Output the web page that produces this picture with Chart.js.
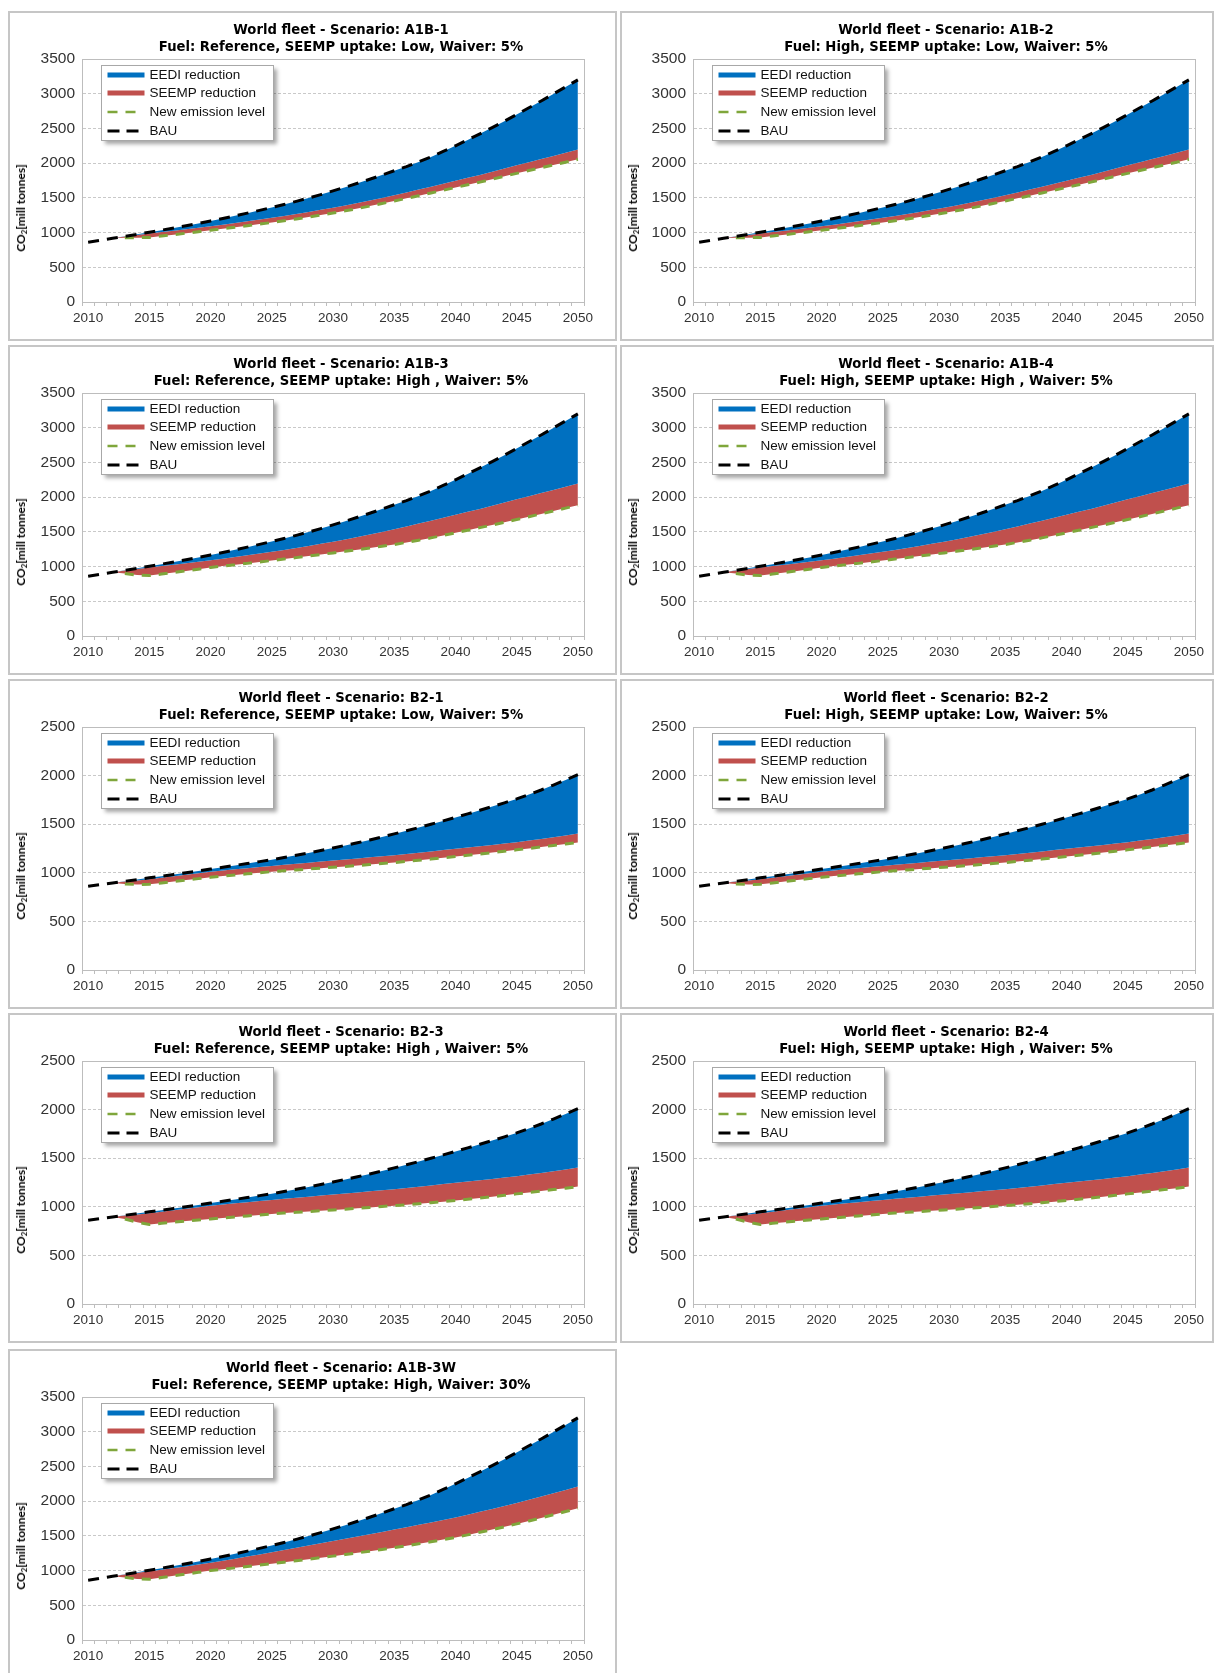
<!DOCTYPE html>
<html>
<head>
<meta charset="utf-8">
<script src="https://cdn.jsdelivr.net/npm/chart.js@4.4.1/dist/chart.umd.min.js"></script>
<style>
  body { margin: 0; background: #fff; width: 1215px; height: 1673px; position: relative; overflow: hidden;
         font-family: "Liberation Sans", Arial, sans-serif; }
  .frame { position: absolute; box-sizing: border-box; border: 2px solid #c6c6c6; }
  canvas { position: absolute; }
  .ttl { position: absolute; transform: translate(-50%, -50%); white-space: nowrap; font-weight: bold;
         font-family: "DejaVu Sans", "Liberation Sans", sans-serif; font-size: 13.2px; color: #000; }
  .ytl { position: absolute; transform: translate(-50%, -50%) rotate(-90deg); white-space: nowrap;
         font-weight: bold; font-family: Lato, "Liberation Sans", sans-serif; font-size: 12px; color: #000; }
  .ytl sub { font-size: 8px; vertical-align: -2px; }
</style>
</head>
<body>
<script>
// ---- data (mill tonnes CO2) ----
const years = ['2010','2011','2012','2013','2014','2015','2016','2017','2018','2019',
               '2020','2021','2022','2023','2024','2025','2026','2027','2028','2029',
               '2030','2031','2032','2033','2034','2035','2036','2037','2038','2039',
               '2040','2041','2042','2043','2044','2045','2046','2047','2048','2049','2050'];

// Business-as-usual emissions
const a1bBau = [862, 890, 918, 946, 975, 1005, 1035, 1066, 1098, 1132,
                1168, 1204, 1241, 1280, 1320, 1362, 1405, 1450, 1497, 1547,
                1600, 1654, 1710, 1768, 1828, 1890, 1950, 2018, 2090, 2168,
                2250, 2335, 2422, 2512, 2605, 2700, 2797, 2896, 2997, 3098, 3200];
const b2Bau = [862, 879, 896, 913, 930, 948, 965, 983, 1001, 1019,
               1038, 1057, 1076, 1095, 1115, 1135, 1157, 1180, 1204, 1229,
               1255, 1282, 1309, 1338, 1368, 1400, 1432, 1465, 1499, 1534,
               1570, 1606, 1643, 1681, 1720, 1760, 1805, 1852, 1903, 1955, 2010];

// Emission level after the EEDI reduction
const a1bAfterEedi = [null, null, 918, 942, 964, 987, 1007, 1027, 1048, 1069,
                      1091, 1114, 1138, 1162, 1187, 1212, 1240, 1268, 1297, 1327,
                      1358, 1391, 1425, 1461, 1499, 1538, 1578, 1619, 1660, 1702,
                      1745, 1788, 1831, 1876, 1922, 1968, 2013, 2058, 2103, 2149, 2195];
const a1bAfterEedi30 = [null, null, 918, 944, 967, 990, 1013, 1036, 1060, 1086,
                        1112, 1141, 1171, 1201, 1233, 1265, 1296, 1328, 1360, 1392,
                        1425, 1457, 1490, 1523, 1556, 1590, 1624, 1659, 1694, 1729,
                        1765, 1805, 1846, 1888, 1931, 1975, 2020, 2066, 2113, 2161, 2210];
const b2AfterEedi = [null, null, 896, 910, 921, 933, 949, 965, 981, 996,
                     1012, 1024, 1036, 1048, 1060, 1071, 1082, 1093, 1104, 1115,
                     1126, 1137, 1148, 1159, 1170, 1181, 1194, 1207, 1220, 1234,
                     1248, 1261, 1274, 1287, 1301, 1315, 1332, 1349, 1366, 1385, 1405];

// New emission level (after EEDI and SEEMP)
const a1bNewLow = [null, null, 918, 924, 926, 930, 950, 970, 991, 1012,
                   1034, 1055, 1077, 1099, 1122, 1145, 1171, 1197, 1224, 1252,
                   1281, 1313, 1346, 1381, 1418, 1456, 1493, 1531, 1570, 1609,
                   1649, 1688, 1727, 1769, 1811, 1853, 1893, 1933, 1973, 2014, 2055];
const a1bNewHigh = [null, null, 918, 900, 877, 870, 892, 915, 938, 963,
                    988, 1007, 1026, 1046, 1066, 1087, 1108, 1129, 1151, 1174,
                    1197, 1220, 1243, 1267, 1292, 1318, 1348, 1380, 1413, 1449,
                    1486, 1523, 1561, 1599, 1638, 1678, 1718, 1759, 1800, 1842, 1885];
const a1bNewHigh30 = [null, null, 918, 902, 880, 876, 900, 925, 950, 975,
                      1000, 1019, 1039, 1059, 1079, 1100, 1121, 1142, 1164, 1186,
                      1208, 1231, 1255, 1279, 1304, 1330, 1357, 1385, 1415, 1446,
                      1478, 1514, 1551, 1590, 1630, 1672, 1715, 1759, 1804, 1850, 1898];
const b2NewLow = [null, null, 896, 886, 880, 882, 896, 910, 925, 940,
                  954, 966, 978, 989, 1000, 1012, 1021, 1030, 1039, 1048,
                  1057, 1066, 1075, 1085, 1095, 1105, 1117, 1129, 1141, 1154,
                  1167, 1180, 1194, 1208, 1222, 1236, 1251, 1266, 1281, 1296, 1311];
const b2NewHigh = [null, null, 896, 875, 841, 817, 830, 842, 853, 864,
                   875, 886, 896, 906, 916, 927, 935, 943, 951, 960,
                   968, 976, 985, 994, 1003, 1012, 1021, 1031, 1042, 1053,
                   1065, 1077, 1090, 1104, 1118, 1133, 1147, 1162, 1177, 1192, 1208];

const scenarioNames = ['A1B-1', 'A1B-2', 'A1B-3', 'A1B-4', 'B2-1', 'B2-2', 'B2-3', 'B2-4', 'A1B-3W'];
const subtitles = [
  'Fuel: Reference, SEEMP uptake: Low, Waiver: 5%',
  'Fuel: High, SEEMP uptake: Low, Waiver: 5%',
  'Fuel: Reference, SEEMP uptake: High , Waiver: 5%',
  'Fuel: High, SEEMP uptake: High , Waiver: 5%',
  'Fuel: Reference, SEEMP uptake: Low, Waiver: 5%',
  'Fuel: High, SEEMP uptake: Low, Waiver: 5%',
  'Fuel: Reference, SEEMP uptake: High , Waiver: 5%',
  'Fuel: High, SEEMP uptake: High , Waiver: 5%',
  'Fuel: Reference, SEEMP uptake: High, Waiver: 30%'
];
const bauSeries = [a1bBau, a1bBau, a1bBau, a1bBau, b2Bau, b2Bau, b2Bau, b2Bau, a1bBau];
const afterEediSeries = [a1bAfterEedi, a1bAfterEedi, a1bAfterEedi, a1bAfterEedi,
                         b2AfterEedi, b2AfterEedi, b2AfterEedi, b2AfterEedi, a1bAfterEedi30];
const newLevelSeries = [a1bNewLow, a1bNewLow, a1bNewHigh, a1bNewHigh,
                        b2NewLow, b2NewLow, b2NewHigh, b2NewHigh, a1bNewHigh30];
const yMaxima = [3500, 3500, 3500, 3500, 2500, 2500, 2500, 2500, 3500];
const newLineStart = 2013;

// ---- styling ----
const BLUE = '#0070c0', RED = '#c0504d', GREEN = '#7fa63b', GRID = '#c9c9c9', AXIS = '#bdbdbd';
const FONT = '"Liberation Sans", Arial, sans-serif';

// layout of the panel grid (page pixels)
const colX = [8, 620], colW = [609, 594], rowY = [11, 345, 679, 1013, 1349], panelH = 330;
const yAxisW = [74, 73], padRight = [33, 19];

// framed plot area
const plotBorder = {
  id: 'plotBorder',
  beforeDatasetsDraw(chart) {
    const a = chart.chartArea, ctx = chart.ctx;
    ctx.save();
    ctx.strokeStyle = AXIS; ctx.lineWidth = 1;
    ctx.strokeRect(Math.round(a.left) + 0.5, Math.round(a.top) + 0.5,
                   Math.round(a.right - a.left), Math.round(a.bottom - a.top));
    ctx.restore();
  }
};

// boxed legend inside the plot, top left, with a soft drop shadow
const legendBox = {
  id: 'legendBox',
  afterDatasetsDraw(chart) {
    const ctx = chart.ctx, a = chart.chartArea;
    const x = Math.round(a.left + 19) + 0.5, y = Math.round(a.top + 6) + 0.5, w = 172, h = 75;
    ctx.save();
    ctx.shadowColor = 'rgba(0,0,0,0.35)'; ctx.shadowBlur = 4; ctx.shadowOffsetX = 3; ctx.shadowOffsetY = 3;
    ctx.fillStyle = '#fff'; ctx.fillRect(x, y, w, h);
    ctx.shadowColor = 'transparent'; ctx.shadowBlur = 0; ctx.shadowOffsetX = 0; ctx.shadowOffsetY = 0;
    ctx.strokeStyle = '#a8a8a8'; ctx.lineWidth = 1; ctx.strokeRect(x, y, w, h);
    const ordered = ['EEDI reduction', 'SEEMP reduction', 'New emission level', 'BAU'];
    ordered.forEach((name, i) => {
      const ds = chart.data.datasets.find(d => d.label === name);
      const key = ds.legendKey;
      const cy = Math.round(y + 9 + i * 18.7);
      ctx.beginPath();
      ctx.setLineDash(key.dash || []);
      ctx.lineWidth = key.width; ctx.strokeStyle = key.color; ctx.lineCap = 'butt';
      ctx.moveTo(x + 6, cy); ctx.lineTo(x + key.len, cy); ctx.stroke();
      ctx.setLineDash([]);
      ctx.fillStyle = '#111'; ctx.font = '13.5px ' + FONT; ctx.textBaseline = 'middle'; ctx.textAlign = 'left';
      ctx.fillText(name, x + 48, cy + 0.5);
    });
    ctx.restore();
  }
};

function addDiv(cls, html, left, top) {
  const d = document.createElement('div');
  d.className = cls; d.innerHTML = html;
  d.style.left = left + 'px'; d.style.top = top + 'px';
  document.body.appendChild(d);
  return d;
}

scenarioNames.forEach((name, i) => {
  const col = i % 2, row = Math.floor(i / 2);
  const x = colX[col], y = rowY[row], w = colW[col], h = panelH;

  const frame = document.createElement('div');
  frame.className = 'frame';
  Object.assign(frame.style, { left: x + 'px', top: y + 'px', width: w + 'px', height: h + 'px' });
  document.body.appendChild(frame);

  const cv = document.createElement('canvas');
  cv.width = w; cv.height = h;
  Object.assign(cv.style, { left: x + 'px', top: y + 'px', width: w + 'px', height: h + 'px' });
  document.body.appendChild(cv);

  const titleCx = x + (col === 0 ? 333 : 326);
  addDiv('ttl', 'World fleet - Scenario: ' + name, titleCx, y + 18);
  addDiv('ttl', subtitles[i], titleCx, y + 35);
  addDiv('ytl', 'CO<sub>2</sub>[mill tonnes]', x + 13, y + 197);

  const newLevel = newLevelSeries[i];
  const newLine = newLevel.map((v, k) => (Number(years[k]) >= newLineStart ? v : null));

  new Chart(cv, {
    type: 'line',
    data: {
      labels: years,
      datasets: [
        { label: 'BAU', data: bauSeries[i], borderColor: '#000', borderWidth: 3, borderDash: [11, 8],
          pointRadius: 0, fill: false, tension: 0,
          legendKey: { color: '#000', width: 3, dash: [12, 7], len: 37 } },
        { label: 'EEDI reduction', data: afterEediSeries[i], borderWidth: 0, borderColor: 'transparent',
          backgroundColor: BLUE, pointRadius: 0, fill: { target: 0 }, tension: 0,
          legendKey: { color: BLUE, width: 5, len: 43 } },
        { label: 'SEEMP reduction', data: newLevel, borderWidth: 0, borderColor: 'transparent',
          backgroundColor: RED, pointRadius: 0, fill: { target: 1 }, tension: 0,
          legendKey: { color: RED, width: 5, len: 43 } },
        { label: 'New emission level', data: newLine, borderColor: GREEN, borderWidth: 3, borderDash: [9, 8],
          pointRadius: 0, fill: false, tension: 0,
          legendKey: { color: GREEN, width: 2.5, dash: [10, 8], len: 37 } }
      ]
    },
    options: {
      responsive: false,
      animation: false,
      devicePixelRatio: 1,
      layout: { padding: { top: 48, right: padRight[col], bottom: 0, left: 0 } },
      plugins: {
        legend: { display: false },
        tooltip: { enabled: false },
        filler: { drawTime: 'beforeDatasetsDraw' }
      },
      scales: {
        x: {
          type: 'category',
          offset: true,
          grid: { offset: true, drawOnChartArea: false, drawTicks: true, tickLength: 4, color: AXIS },
          border: { color: AXIS },
          ticks: {
            autoSkip: false, maxRotation: 0, padding: 4, color: '#333',
            font: { family: FONT, size: 13.5 },
            callback: function (val) {
              const lbl = this.getLabelForValue(val);
              return Number(lbl) % 5 === 0 ? lbl : '';
            }
          },
          afterFit(scale) { scale.height = h - 291; }
        },
        y: {
          min: 0, max: yMaxima[i],
          grid: { color: GRID, drawTicks: false },
          border: { color: AXIS, dash: [3, 2] },
          ticks: { stepSize: 500, padding: 7, color: '#333', font: { family: FONT, size: 15.5 },
                   callback: v => String(v) },
          afterFit(scale) { scale.width = yAxisW[col]; }
        }
      }
    },
    plugins: [plotBorder, legendBox]
  });
});
</script>
</body>
</html>
